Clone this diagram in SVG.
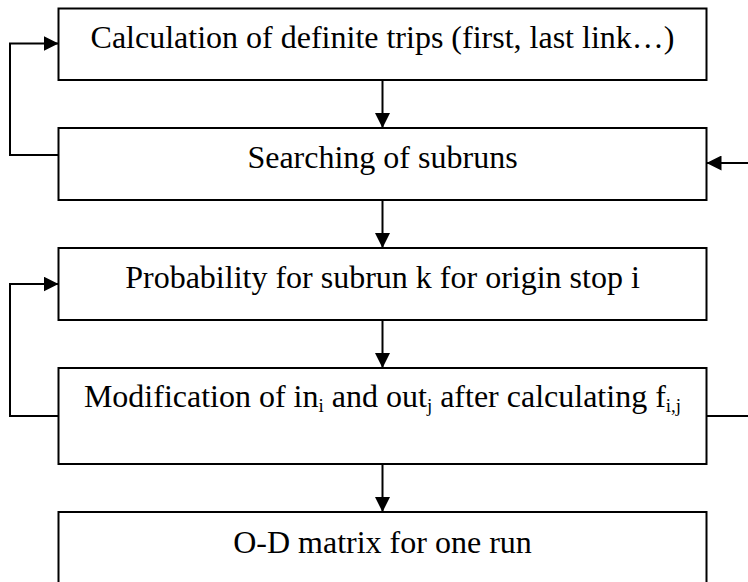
<svg xmlns="http://www.w3.org/2000/svg" width="748" height="582" viewBox="0 0 748 582">
<style>
.box{fill:#fff;stroke:#000;stroke-width:2}
.lbl{font-family:"Liberation Serif","Times New Roman",serif;font-size:32px;fill:#000;text-anchor:middle}
.sub{font-size:19px}
.con{fill:none;stroke:#000;stroke-width:2}
</style>
<defs>
<marker id="ah" viewBox="0 0 15 15" refX="15" refY="7.5" markerWidth="15" markerHeight="15" markerUnits="userSpaceOnUse" orient="auto">
<path d="M0,0 L15,7.5 L0,15 Z" fill="#000"/>
</marker>
</defs>
<g id="n1"><rect class="box" x="58.5" y="8.5" width="648" height="71.5"/><text class="lbl" x="382.5" y="48">Calculation of definite trips (first, last link…)</text></g>
<g id="n2"><rect class="box" x="58.5" y="128" width="648" height="72"/><text class="lbl" x="382.5" y="168">Searching of subruns</text></g>
<g id="n3"><rect class="box" x="58.5" y="248" width="648" height="72"/><text class="lbl" x="382.5" y="288">Probability for subrun k for origin stop i</text></g>
<g id="n4"><rect class="box" x="58.5" y="368" width="648" height="96"/><text class="lbl" x="382.5" y="407">Modification of in<tspan class="sub" dy="5">i</tspan><tspan dy="-5"> and out</tspan><tspan class="sub" dy="5">j</tspan><tspan dy="-5"> after calculating f</tspan><tspan class="sub" dy="5">i,j</tspan></text></g>
<g id="n5"><rect class="box" x="58.5" y="512" width="648" height="80"/><text class="lbl" x="382.5" y="553">O-D matrix for one run</text></g>
<g id="connectors">
<line class="con" x1="382.5" y1="80" x2="382.5" y2="128" marker-end="url(#ah)"/>
<line class="con" x1="382.5" y1="200" x2="382.5" y2="248" marker-end="url(#ah)"/>
<line class="con" x1="382.5" y1="320" x2="382.5" y2="368" marker-end="url(#ah)"/>
<line class="con" x1="382.5" y1="464" x2="382.5" y2="512" marker-end="url(#ah)"/>
<polyline class="con" points="58.5,155 10,155 10,43.5 58.5,43.5" marker-end="url(#ah)"/>
<polyline class="con" points="58.5,416 10,416 10,284 58.5,284" marker-end="url(#ah)"/>
<line class="con" x1="750" y1="163" x2="706.5" y2="163" marker-end="url(#ah)"/>
<line class="con" x1="706.5" y1="416" x2="750" y2="416"/>
</g>
</svg>
